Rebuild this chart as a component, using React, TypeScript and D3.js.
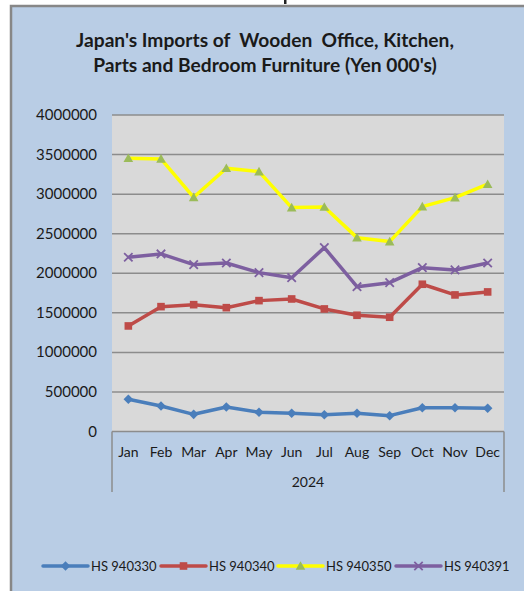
import React from "react";
import * as d3 from "d3";

const months = ["Jan", "Feb", "Mar", "Apr", "May", "Jun", "Jul", "Aug", "Sep", "Oct", "Nov", "Dec"];
const yearLabel = "2024";
const yTicks = [0, 500000, 1000000, 1500000, 2000000, 2500000, 3000000, 3500000, 4000000];

const hs940330 = [407000, 322000, 217000, 310000, 243000, 230000, 212000, 230000, 200000, 301000, 301000, 293000];
const hs940340 = [1334000, 1578000, 1603000, 1565000, 1654000, 1675000, 1549000, 1469000, 1444000, 1861000, 1726000, 1764000];
const hs940350 = [3454000, 3445000, 2960000, 3327000, 3285000, 2830000, 2838000, 2450000, 2400000, 2842000, 2956000, 3125000];
const hs940391 = [2202000, 2244000, 2109000, 2130000, 2008000, 1944000, 2324000, 1830000, 1881000, 2071000, 2042000, 2130000];

const seriesNames = ["HS 940330", "HS 940340", "HS 940350", "HS 940391"];
const titleLines = ["Japan's Imports of  Wooden  Office, Kitchen,", "Parts and Bedroom Furniture (Yen 000's)"];

const W = 524;
const H = 591;
const plot = { left: 112, right: 504, top: 115, bottom: 431.5 };
const FONT = "Lato, 'Liberation Sans', sans-serif";

type Marker = "diamond" | "square" | "triangle" | "x";
const series = [
  { name: seriesNames[0], values: hs940330, line: "#4a7ebb", marker: "diamond" as Marker, mfill: "#4a7ebb" },
  { name: seriesNames[1], values: hs940340, line: "#be4b48", marker: "square" as Marker, mfill: "#be4b48" },
  { name: seriesNames[2], values: hs940350, line: "#ffff00", marker: "triangle" as Marker, mfill: "#9bbb59" },
  { name: seriesNames[3], values: hs940391, line: "#7d5fa0", marker: "x" as Marker, mfill: "#7d5fa0" },
];

function MarkerShape({ type, x, y, color }: { type: Marker; x: number; y: number; color: string }) {
  if (type === "diamond") {
    const s = 4.8;
    return <path d={`M${x},${y - s}L${x + s},${y}L${x},${y + s}L${x - s},${y}Z`} fill={color} />;
  }
  if (type === "square") {
    const s = 3.8;
    return <rect x={x - s} y={y - s} width={2 * s} height={2 * s} fill={color} />;
  }
  if (type === "triangle") {
    const s = 4.8;
    return <path d={`M${x},${y - s}L${x + s},${y + s * 0.8}L${x - s},${y + s * 0.8}Z`} fill={color} />;
  }
  const s = 4.2;
  return (
    <path
      d={`M${x - s},${y - s}L${x + s},${y + s}M${x - s},${y + s}L${x + s},${y - s}`}
      stroke={color}
      strokeWidth={1.8}
      fill="none"
    />
  );
}

export default function App() {
  const x = d3.scaleBand<string>().domain(months).range([plot.left, plot.right]);
  const y = d3.scaleLinear().domain([0, 4000000]).range([plot.bottom, plot.top]);
  const cx = (m: string) => (x(m) as number) + x.bandwidth() / 2;
  const line = d3
    .line<number>()
    .x((_, i) => cx(months[i]))
    .y((v) => y(v));

  const legendX = [43, 161, 278, 396];
  const legendY = 566;

  return (
    <svg
      width={W}
      height={H}
      style={{ position: "absolute", left: 0, top: 0, background: "#ffffff" }}
      fontFamily={FONT}
    >
      <rect x={11} y={6} width={W} height={H} fill="#b9cde5" stroke="#878787" strokeWidth={2.5} />
      <rect x={284} y={0} width={2.5} height={4} fill="#222" />

      {titleLines.map((t, i) => (
        <text
          key={i}
          x={265}
          y={47 + i * 25}
          textAnchor="middle"
          fontSize={19.2}
          fontWeight={700}
          fill="#1a1a1a"
          xmlSpace="preserve"
        >
          {t}
        </text>
      ))}

      <rect x={plot.left} y={plot.top} width={plot.right - plot.left} height={plot.bottom - plot.top} fill="#d9d9d9" />

      {yTicks.map((t) => (
        <g key={t}>
          {t > 0 && (
            <line x1={plot.left} x2={plot.right} y1={y(t)} y2={y(t)} stroke="#8c8c8c" strokeWidth={1.5} />
          )}
          <text x={97} y={y(t) + 5} textAnchor="end" fontSize={15} fill="#1a1a1a">
            {t}
          </text>
        </g>
      ))}

      <line x1={plot.left} x2={plot.right} y1={plot.bottom} y2={plot.bottom} stroke="#8c8c8c" strokeWidth={1.5} />
      <line x1={plot.left} x2={plot.left} y1={plot.bottom} y2={492} stroke="#8c8c8c" strokeWidth={1.5} />
      <line x1={plot.right} x2={plot.right} y1={plot.bottom} y2={492} stroke="#8c8c8c" strokeWidth={1.5} />

      {months.map((m) => (
        <text key={m} x={cx(m)} y={457} textAnchor="middle" fontSize={14} fill="#1a1a1a">
          {m}
        </text>
      ))}
      <text x={(plot.left + plot.right) / 2} y={487} textAnchor="middle" fontSize={14} fill="#1a1a1a">
        {yearLabel}
      </text>

      {series.map((s) => (
        <g key={s.name}>
          <path d={line(s.values) || ""} fill="none" stroke={s.line} strokeWidth={3.5} strokeLinejoin="round" />
          {s.values.map((v, i) => (
            <MarkerShape key={i} type={s.marker} x={cx(months[i])} y={y(v)} color={s.mfill} />
          ))}
        </g>
      ))}

      {series.map((s, i) => (
        <g key={s.name}>
          <line
            x1={legendX[i]}
            x2={legendX[i] + 45}
            y1={legendY}
            y2={legendY}
            stroke={s.line}
            strokeWidth={3.5}
            strokeLinecap="round"
          />
          <MarkerShape type={s.marker} x={legendX[i] + 22.5} y={legendY} color={s.mfill} />
          <text x={legendX[i] + 48} y={legendY + 4.5} fontSize={13} fill="#1a1a1a">
            {s.name}
          </text>
        </g>
      ))}
    </svg>
  );
}
